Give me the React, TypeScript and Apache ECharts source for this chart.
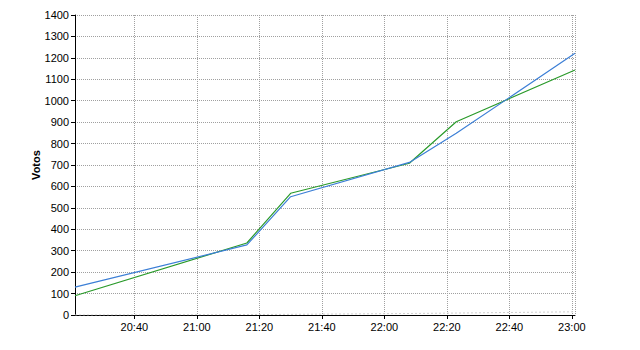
import React, { useEffect, useRef } from "react";
import * as echarts from "echarts";

const times = ["20:21", "21:16", "21:30", "22:08", "22:23", "23:01"];
const seriesBlue = [130, 327, 552, 712, 848, 1221];
const seriesGreen = [90, 336, 568, 708, 902, 1143];
const seriesGray = [0, 2, 3, 7, 9, 15];
const yTicks = { min: 0, max: 1400, interval: 100 };

const toMin = (t: string) => {
  const [h, m] = t.split(":").map(Number);
  return h * 60 + m;
};
const fmt = (v: number) => {
  const h = Math.floor(v / 60);
  const m = Math.round(v - h * 60);
  return `${h}:${m < 10 ? "0" + m : m}`;
};

export default function App() {
  const ref = useRef<HTMLDivElement>(null);
  useEffect(() => {
    if (!ref.current) return;
    const chart = echarts.init(ref.current, undefined, { renderer: "svg" });
    const mk = (vals: number[]) => times.map((t, i) => [toMin(t), vals[i]]);
    const font = "Liberation Sans, Arial, sans-serif";
    chart.setOption({
      animation: false,
      backgroundColor: "#fff",
      grid: {
        left: 75,
        right: 65,
        top: 15,
        bottom: 35,
        show: false,
      },
      xAxis: {
        type: "value",
        min: toMin(times[0]),
        max: toMin(times[times.length - 1]),
        splitNumber: 8,
        axisLine: { show: true, onZero: false, lineStyle: { color: "#000", width: 1 } },
        axisTick: { show: true, length: 4, lineStyle: { color: "#000" } },
        axisLabel: {
          formatter: (v: number) => fmt(v),
          showMinLabel: false,
          showMaxLabel: false,
          color: "#000",
          fontSize: 11,
          fontFamily: font,
          margin: 6,
        },
        splitLine: { show: true, lineStyle: { color: "#a0a0a0", type: [1, 1], width: 1 } },
      },
      yAxis: {
        type: "value",
        min: yTicks.min,
        max: yTicks.max,
        interval: yTicks.interval,
        name: "Votos",
        nameLocation: "middle",
        nameGap: 34,
        nameMoveOverlap: false,
        nameTextStyle: { fontWeight: "bold", fontSize: 11, fontFamily: font, color: "#000" },
        axisLine: { show: true, lineStyle: { color: "#000", width: 1 } },
        axisTick: { show: true, length: 4, lineStyle: { color: "#000" } },
        axisLabel: {
          color: "#000",
          fontSize: 11,
          fontFamily: font,
          margin: 6,
          formatter: (v: number) => String(v),
        },
        splitLine: { show: true, lineStyle: { color: "#a0a0a0", type: [1, 1], width: 1 } },
      },
      series: [
        {
          type: "line",
          data: mk(seriesGray),
          symbol: "none",
          lineStyle: { color: "#d0d0d0", width: 1, type: [2, 2] },
          z: 1,
        },
        {
          type: "line",
          data: mk(seriesGreen),
          symbol: "none",
          lineStyle: { color: "#2a9a2a", width: 1.2 },
          z: 2,
        },
        {
          type: "line",
          data: mk(seriesBlue),
          symbol: "none",
          lineStyle: { color: "#3c7fd6", width: 1.2 },
          z: 3,
        },
      ],
    });
    return () => chart.dispose();
  }, []);
  return <div ref={ref} style={{ width: 640, height: 350, position: "absolute", left: 0, top: 0 }} />;
}
